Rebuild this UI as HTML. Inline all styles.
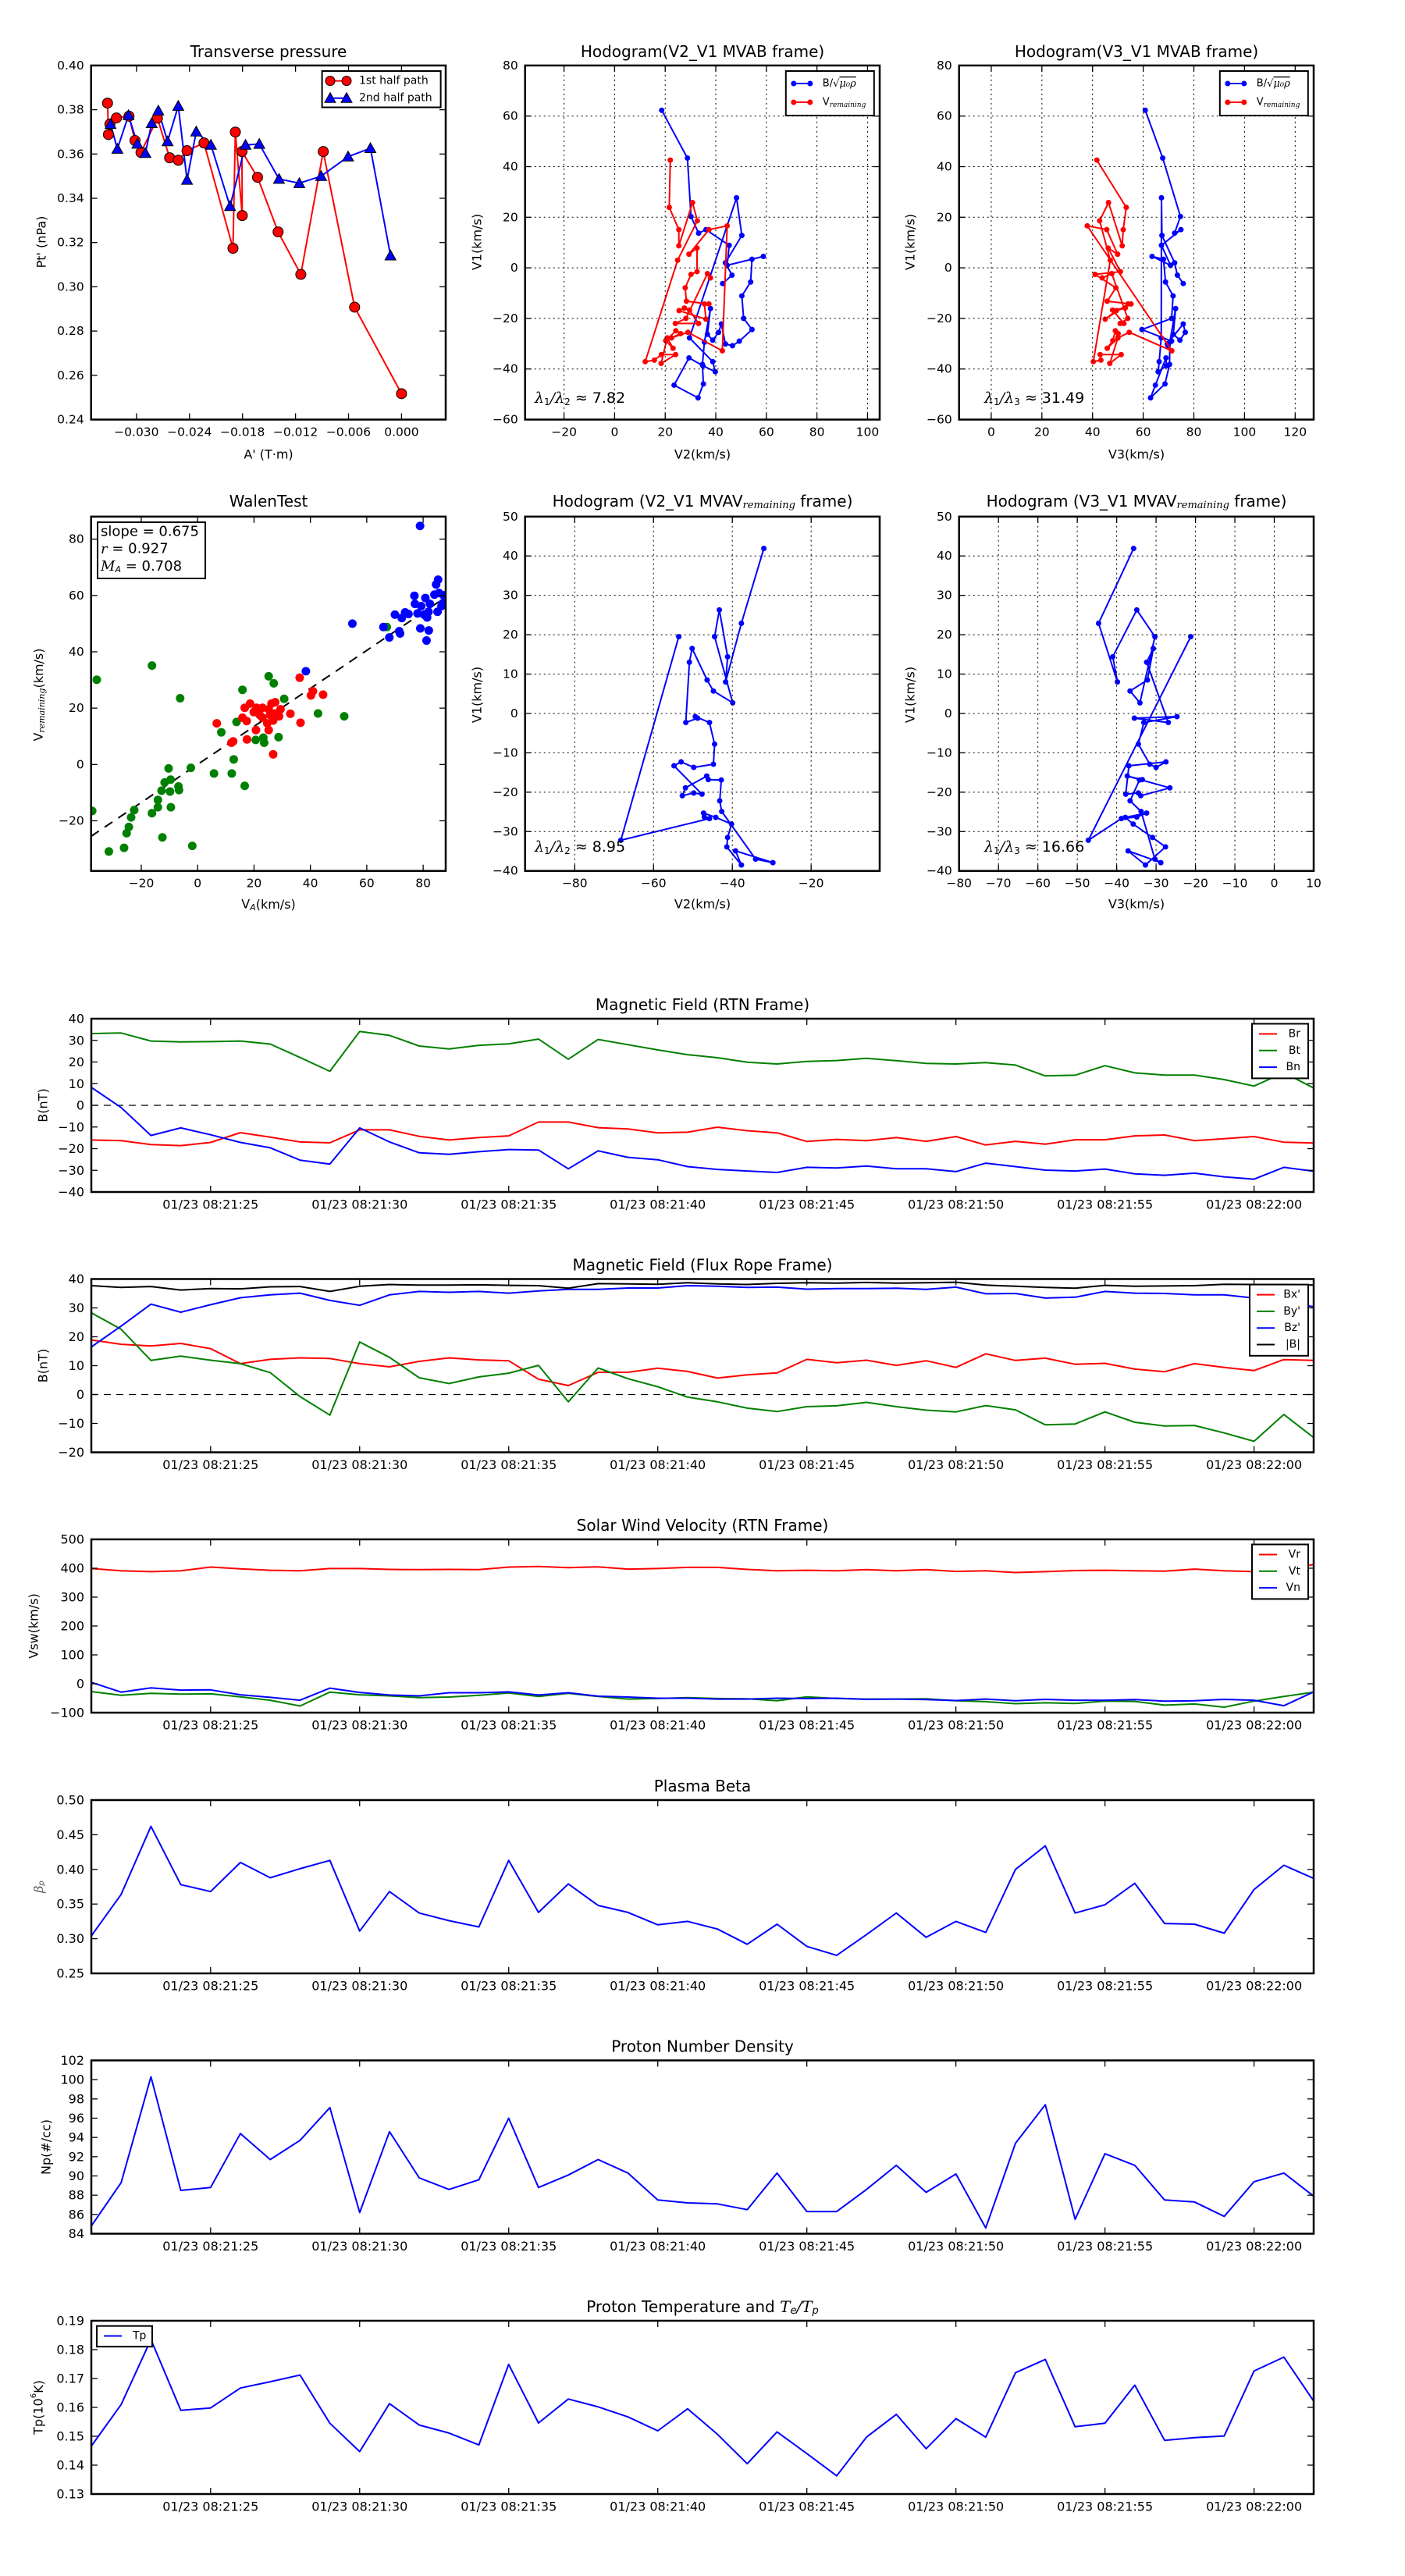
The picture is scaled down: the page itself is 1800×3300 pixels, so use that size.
<!DOCTYPE html>
<html><head><meta charset="utf-8"><title>Flux rope analysis</title>
<style>
html,body{margin:0;padding:0;background:#fff}
svg{display:block;font-family:"DejaVu Sans","Liberation Sans",sans-serif}
</style></head>
<body>
<svg id="fig" width="1800" height="3300" viewBox="0 0 1800 3300" xmlns="http://www.w3.org/2000/svg"></svg>
<script>
// ---------- DATA ----------
// Transverse pressure
const ptRedA=[-0.03328,-0.03318,-0.03301,-0.03227,-0.03085,-0.03017,-0.02949,-0.02763,-0.02625,-0.02527,-0.02428,-0.02236,-0.01908,-0.01881,-0.01803,-0.01806,-0.01630,-0.01397,-0.01140,-0.00886,-0.00531,0.0];
const ptRedP=[0.3830,0.3688,0.3735,0.3763,0.3771,0.3661,0.3607,0.3762,0.3583,0.3572,0.3615,0.3650,0.3174,0.3699,0.3322,0.3611,0.3495,0.3248,0.3056,0.3611,0.2908,0.2517];
const ptBlueA=[-0.03294,-0.03216,-0.03091,-0.02990,-0.02899,-0.02828,-0.02753,-0.02648,-0.02527,-0.02428,-0.02324,-0.02158,-0.01941,-0.01766,-0.01610,-0.01387,-0.01157,-0.00910,-0.00605,-0.00352,-0.00125];
const ptBlueP=[0.3735,0.3623,0.3775,0.3646,0.3604,0.3739,0.3796,0.3657,0.3817,0.3483,0.3701,0.3641,0.3364,0.3641,0.3645,0.3487,0.3468,0.3500,0.3588,0.3626,0.3141];
const ptXTicks=[-0.030,-0.024,-0.018,-0.012,-0.006,0.000];
const ptXLabels=['\u22120.030','\u22120.024','\u22120.018','\u22120.012','\u22120.006','0.000'];
const ptYTicks=[0.24,0.26,0.28,0.30,0.32,0.34,0.36,0.38,0.40];
const ptYLabels=['0.24','0.26','0.28','0.30','0.32','0.34','0.36','0.38','0.40'];
// MVAB hodograms (shared V1)
const hbV1=[62.3,43.4,20.3,13.7,15.1,8.9,1.0,4.5,3.4,-5.6,-11.1,-20.0,-24.4,-29.0,-30.8,-30.1,-22.2,-25.5,-28.6,-26.3,-16.1,-29.4,-38.2,-45.9,-51.4,-46.4,-35.6,-38.7,-41.1,-37.1,-27.7,27.7,12.8,2.0,-2.9,-6.2];
const hbV2=[18.6,28.8,30.2,33.2,36.1,45.3,44.5,58.8,54.3,53.8,50.3,51.0,54.3,49.3,46.6,43.8,42.2,41.1,38.8,36.7,37.9,35.5,34.7,35.1,33.0,23.5,29.4,34.9,39.8,38.8,29.6,48.2,50.3,43.8,46.4,42.7];
const hbV3=[60.8,67.7,74.7,72.4,74.9,67.2,70.8,63.5,68.0,68.8,71.8,71.2,59.5,71.2,69.8,69.5,75.8,76.6,74.5,71.9,72.8,70.5,70.4,68.6,62.9,64.8,69.0,69.2,65.9,66.3,67.1,67.2,67.4,72.4,73.5,75.8];
const hrV1=[42.6,23.9,15.1,8.7,25.8,18.6,3.0,-37.1,-36.5,-34.3,-34.3,-37.8,-27.7,-31.8,-28.8,-24.9,-26.0,-27.7,-25.5,-32.8,16.6,15.1,5.4,7.8,-1.5,-2.6,-7.9,-13.2,-14.3,-14.3,-20.3,-16.9,-15.9,-16.7,-22.0,-22.0,-20.0,-2.3,-4.0];
const hrV2=[22.0,21.6,25.4,25.4,30.8,32.7,24.9,12.1,15.7,18.5,24.1,18.4,20.8,23.1,20.2,24.2,26.1,22.5,29.0,42.6,44.5,37.3,29.4,32.6,32.6,30.2,27.9,28.4,37.3,35.5,36.1,25.5,27.6,29.6,33.2,24.0,28.2,36.7,37.9];
const hrV3=[41.7,53.3,52.1,51.7,46.3,42.8,47.0,40.3,43.3,43.0,51.3,46.8,50.0,45.8,48.0,49.0,50.1,50.0,54.5,71.3,37.9,45.6,49.9,46.2,51.0,41.0,49.2,45.8,55.2,54.0,45.0,49.4,52.9,47.9,52.4,50.9,53.9,47.6,43.8];
const hodoTicksA=[-20,0,20,40,60,80,100];
const hodoTicksB=[0,20,40,60,80,100,120];
const hodoYTicks=[-60,-40,-20,0,20,40,60,80];
// MVAV hodograms (shared V1)
const hvV1=[19.5,-32.2,-26.7,-26.3,-25.3,-26.4,-28.1,-31.5,-33.9,-38.5,-34.9,-37.9,-37.0,-24.9,-22.2,-16.9,-16.8,-15.9,-18.9,-20.9,-20.2,-20.5,-13.3,-12.3,-13.7,-12.9,-7.8,-2.3,-0.8,-1.2,-2.3,13.0,16.5,8.5,5.7,2.7,19.5,26.3,14.4,8.0,22.9,41.9];
const hvV2=[-53.6,-68.3,-45.8,-47.1,-47.3,-44.2,-40.2,-41.2,-41.4,-37.7,-39.2,-29.7,-34.1,-42.7,-43.2,-42.8,-46.1,-46.5,-51.9,-52.7,-49.8,-47.7,-54.8,-53.0,-49.8,-44.8,-44.5,-45.8,-49.4,-48.8,-51.8,-50.9,-50.2,-46.4,-44.8,-39.9,-44.5,-43.3,-41.2,-41.7,-37.7,-32.0];
const hvV3=[-21.2,-47.2,-38.8,-34.9,-32.4,-37.8,-35.8,-30.9,-27.6,-32.7,-37.1,-28.8,-30.3,-33.8,-36.6,-34.2,-33.5,-37.3,-26.5,-33.9,-34.5,-37.7,-36.9,-27.5,-30.0,-31.6,-34.5,-33.1,-24.7,-35.5,-26.9,-32.4,-30.7,-32.2,-36.6,-34.1,-30.3,-34.9,-41.0,-39.8,-44.6,-35.7];
const hvXTicksA=[-80,-60,-40,-20];
const hvXTicksB=[-80,-70,-60,-50,-40,-30,-20,-10,0,10];
const hvYTicks=[-40,-30,-20,-10,0,10,20,30,40,50];
// Walen test
const walBlueX=[78.9,76.9,77.1,70.0,72.4,73.6,74.8,78.0,80.8,82.4,84.0,85.3,84.6,85.6,87.2,86.9,86.5,85.1,81.9,80.3,79.3,81.4,79.0,82.0,81.2,71.5,71.8,68.0,65.9,54.9,38.4];
const walBlueY=[84.7,59.9,57.0,53.2,52.0,54.0,53.4,53.6,59.1,57.0,60.3,65.6,63.9,60.9,60.1,57.2,56.2,54.2,54.2,53.2,56.2,52.2,48.3,47.6,44.0,47.3,46.5,45.1,48.8,50.0,33.1];
const walRedX=[36.2,40.9,40.2,44.5,32.9,36.5,6.8,12.0,12.6,17.5,20.7,26.8,16.7,18.6,15.9,17.4,20.9,23.0,25.2,26.2,27.5,29.4,28.9,26.8,25.2,24.7,23.0,19.9,22.0,25.7,27.3];
const walRedY=[30.8,26.0,24.5,24.8,18.0,14.8,14.6,7.7,8.2,8.9,12.2,3.6,20.1,21.6,16.6,15.4,20.1,20.1,19.6,21.6,22.1,19.6,17.1,15.6,12.2,14.6,16.6,18.6,17.6,17.6,18.1];
const walGreenX=[-35.8,-16.2,-6.2,-37.4,-31.5,-26.1,-25.2,-24.4,-23.6,-22.5,-16.2,-14.1,-14.1,-12.8,-12.5,-11.7,-10.3,-9.6,-9.8,-9.5,-6.8,-6.6,-2.4,-1.9,5.8,12.1,12.8,8.4,13.8,16.7,15.9,20.6,23.3,23.6,25.2,27.0,28.7,30.7,42.7,52.0,67.1];
const walGreenY=[30.1,35.1,23.5,-16.5,-30.9,-29.6,-24.4,-22.2,-18.8,-16.2,-17.3,-15.2,-12.6,-9.3,-25.9,-6.4,-1.4,-5.4,-9.6,-15.2,-7.8,-9.1,-1.2,-28.9,-3.2,-3.2,1.8,11.4,15.1,-7.6,26.5,8.7,9.5,7.7,31.3,28.8,9.7,23.3,18.1,17.1,48.8];
const walSlope=0.675;
const walTicks=[-20,0,20,40,60,80];
// Time series (seconds after 08:21:00)
const tsTime=[21,22,23,24,25,26,27,28,29,30,31,32,33,34,35,36,37,38,39,40,41,42,43,44,45,46,47,48,49,50,51,52,53,54,55,56,57,58,59,60,61,62];
const tsTickSec=[25,30,35,40,45,50,55,60];
const tsTickLabels=['01/23 08:21:25','01/23 08:21:30','01/23 08:21:35','01/23 08:21:40','01/23 08:21:45','01/23 08:21:50','01/23 08:21:55','01/23 08:22:00'];
const bR=[-16,-16.3,-18.1,-18.6,-17.1,-12.6,-14.7,-16.9,-17.3,-11.3,-11.3,-14.3,-16,-14.9,-14.1,-7.7,-7.7,-10.3,-10.9,-12.7,-12.4,-10.1,-11.7,-12.7,-16.7,-15.7,-16.3,-14.9,-16.6,-14.4,-18.3,-16.6,-17.9,-15.9,-15.9,-14.1,-13.7,-16.3,-15.4,-14.4,-17,-17.4];
const bT=[33.1,33.4,29.7,29.3,29.4,29.7,28.3,22.1,15.7,34.1,32.3,27.4,26,27.7,28.4,30.6,21.3,30.4,28,25.6,23.4,22,19.9,19.1,20.3,20.7,21.7,20.6,19.4,19.1,19.7,18.6,13.6,13.9,18.3,15,14,14,11.9,8.9,15.1,8];
const bN=[8.3,-1,-13.9,-10.4,-13.6,-17.1,-19.6,-25.3,-27.1,-10.4,-16.9,-21.9,-22.6,-21.4,-20.4,-20.6,-29.3,-21,-24,-25.1,-28.3,-29.6,-30.3,-31,-28.6,-28.9,-28,-29.3,-29.3,-30.6,-26.7,-28.3,-29.9,-30.3,-29.4,-31.6,-32.3,-31.3,-33,-34.1,-28.6,-30.4];
const bX=[18.9,17.4,16.8,17.7,15.9,10.7,12.2,12.7,12.5,10.7,9.6,11.5,12.7,12,11.7,5.3,3.1,7.7,7.7,9.1,8,5.7,6.8,7.5,12.2,11,11.9,10.1,11.7,9.4,14.1,11.8,12.6,10.5,10.8,8.8,7.9,10.7,9.4,8.3,12.1,11.8];
const bY=[28.3,22.6,11.8,13.3,11.9,10.7,7.6,-0.7,-7.1,18.2,12.9,5.8,3.8,6.1,7.4,10.1,-2.5,9.2,5.5,2.7,-0.9,-2.5,-4.7,-5.9,-4.2,-3.9,-2.7,-4.2,-5.4,-6,-3.8,-5.3,-10.5,-10.2,-6,-9.6,-10.9,-10.7,-13.3,-16.2,-6.9,-14.9];
const bZ=[16.5,23.7,31.3,28.5,31.1,33.5,34.5,35.1,32.6,30.9,34.5,35.7,35.4,35.7,35.1,35.9,36.4,36.4,36.9,36.9,37.7,37.5,37.1,37.2,36.5,36.7,36.7,36.8,36.4,37.2,34.9,35,33.4,33.7,35.7,35.1,35,34.5,34.5,33.4,32.2,30.4];
const bMag=[37.7,37.1,37.4,36.2,36.7,36.6,37.3,37.4,35.7,37.5,38.1,37.9,37.9,38,37.8,37.7,36.8,38.4,38.3,38.2,38.7,38.3,38.1,38.5,38.7,38.6,38.8,38.6,38.7,38.9,37.9,37.5,37.1,36.8,37.8,37.5,37.6,37.7,38.2,38.1,38.1,37.9];
const vR=[399,391,388,391,404,398,393,391,399,399,396,395,396,395,404,406,402,405,397,399,403,403,396,391,393,391,395,391,395,389,391,385,388,392,393,391,390,397,391,388,395,413];
const vT=[-27,-40,-33,-36,-35,-45,-57,-77,-29,-38,-42,-48,-46,-40,-32,-44,-33,-44,-53,-51,-48,-51,-52,-59,-45,-51,-53,-53,-52,-59,-62,-69,-66,-68,-60,-61,-74,-70,-81,-60,-44,-29];
const vN=[5,-29,-14,-22,-21,-38,-47,-57,-15,-30,-39,-42,-31,-31,-28,-39,-31,-43,-46,-50,-50,-53,-53,-50,-51,-50,-54,-53,-55,-58,-53,-59,-54,-57,-57,-55,-60,-59,-54,-57,-76,-28];
const betaP=[0.304,0.364,0.462,0.378,0.368,0.410,0.388,0.401,0.413,0.311,0.368,0.337,0.326,0.317,0.413,0.338,0.379,0.348,0.338,0.320,0.325,0.314,0.292,0.321,0.289,0.276,0.306,0.337,0.302,0.325,0.309,0.400,0.434,0.337,0.349,0.380,0.322,0.321,0.308,0.371,0.406,0.387];
const npD=[84.8,89.3,100.3,88.5,88.8,94.4,91.7,93.7,97.1,86.2,94.6,89.8,88.6,89.6,96.0,88.8,90.1,91.7,90.3,87.5,87.2,87.1,86.5,90.3,86.3,86.3,88.6,91.1,88.3,90.2,84.6,93.4,97.4,85.5,92.3,91.1,87.5,87.3,85.8,89.4,90.3,87.9];
const tpT=[0.1466,0.161,0.1835,0.159,0.1598,0.1667,0.1689,0.1712,0.1545,0.1447,0.1613,0.1539,0.1511,0.147,0.1749,0.1546,0.1629,0.1602,0.1567,0.1519,0.1595,0.1507,0.1405,0.1515,0.144,0.1363,0.1497,0.1576,0.1457,0.1561,0.1497,0.172,0.1766,0.1533,0.1545,0.1677,0.1486,0.1495,0.1501,0.1726,0.1774,0.1622];

// ---------- DRAWING ----------
const NS='http://www.w3.org/2000/svg';
const svg=document.getElementById('fig');
let clipN=0;
function mk(tag,attrs,parent){const e=document.createElementNS(NS,tag);for(const k in attrs)e.setAttribute(k,attrs[k]);(parent||svg).appendChild(e);return e;}
function txt(s,x,y,size,anchor,parent,extra){const t=mk('text',Object.assign({x:x,y:y,'font-size':size,'text-anchor':anchor||'middle','dominant-baseline':'central',fill:'#000'},extra||{}),parent);t.textContent=s;return t;}
function fmtNum(v){return (v<0?'\u2212':'')+Math.abs(v);}

function makeAxes(name,box,xl,yl){
  const g=mk('g',{});
  
  
  const [x0,y0,x1,y1]=box;
  const sx=v=>x0+(v-xl[0])/(xl[1]-xl[0])*(x1-x0);
  const sy=v=>y1-(v-yl[0])/(yl[1]-yl[0])*(y1-y0);
  const id='clip'+(clipN++);
  const cp=mk('clipPath',{id:id},g);
  mk('rect',{x:x0,y:y0,width:x1-x0,height:y1-y0},cp);
  const data=mk('g',{'clip-path':'url(#'+id+')'},g);
  
  
  return {g,data,sx,sy,box};
}
function grid(ax,xt,yt){
  const [x0,y0,x1,y1]=ax.box;
  xt.forEach(v=>{const l=mk('line',{x1:ax.sx(v),x2:ax.sx(v),y1:y0,y2:y1,stroke:'#000','stroke-width':1,'stroke-dasharray':'2,4'},ax.g);
    
    });
  yt.forEach(v=>{const l=mk('line',{x1:x0,x2:x1,y1:ax.sy(v),y2:ax.sy(v),stroke:'#000','stroke-width':1,'stroke-dasharray':'2,4'},ax.g);
    
    });
}
function frame(ax,xt,xlab,yt,ylab,fs,tl){
  const [x0,y0,x1,y1]=ax.box;
  const tg=mk('g',{},ax.g);
  
  
  xt.forEach((v,i)=>{const x=ax.sx(v);
    mk('line',{x1:x,x2:x,y1:y1,y2:y1-tl,stroke:'#000','stroke-width':1.3},tg);
    mk('line',{x1:x,x2:x,y1:y0,y2:y0+tl,stroke:'#000','stroke-width':1.3},tg);
    const t=txt(xlab[i],x,y1+16,fs,'middle',tg);
    
    });
  yt.forEach((v,i)=>{const y=ax.sy(v);
    mk('line',{x1:x0,x2:x0+tl,y1:y,y2:y,stroke:'#000','stroke-width':1.3},tg);
    mk('line',{x1:x1,x2:x1-tl,y1:y,y2:y,stroke:'#000','stroke-width':1.3},tg);
    const t=txt(ylab[i],x0-9,y,fs,'end',tg);
    
    });
  const r=mk('rect',{x:x0,y:y0,width:x1-x0,height:y1-y0,fill:'none',stroke:'#000','stroke-width':2.5},ax.g);
  
  
}
function polyline(ax,xs,ys,color,w,name){
  const pts=xs.map((x,i)=>ax.sx(x).toFixed(1)+','+ax.sy(ys[i]).toFixed(1)).join(' ');
  const p=mk('polyline',{points:pts,fill:'none',stroke:color,'stroke-width':w,'stroke-linejoin':'round'},ax.data);
  
  
  return p;
}
function dots(ax,xs,ys,color,r,name,stroke){
  const g=mk('g',{},ax.data);
  
  
  xs.forEach((x,i)=>{const c=mk('circle',{cx:ax.sx(x),cy:ax.sy(ys[i]),r:r,fill:color},g);
    if(stroke){c.setAttribute('stroke','#000');c.setAttribute('stroke-width',1);}
    
    });
}
function tris(ax,xs,ys,color,s,name){
  const g=mk('g',{},ax.data);
  
  
  xs.forEach((x,i)=>{const cx=ax.sx(x),cy=ax.sy(ys[i]);
    const p=mk('polygon',{points:`${cx},${cy-s} ${cx-s},${cy+s*0.8} ${cx+s},${cy+s*0.8}`,fill:color,stroke:'#000','stroke-width':1},g);
    
    });
}
function title(s,x,y,size){const t=txt(s,x,y,size||20,'middle');return t;}
function xlabel(s,x,y){const t=txt(s,x,y,16,'middle');return t;}
function ylabel(s,x,y){const t=txt(s,x,y,16,'middle',svg,{transform:`rotate(-90 ${x} ${y})`});return t;}
function fmtF(v,d){return (v<0?'\u2212':'')+Math.abs(v).toFixed(d);}

// ----- Panel 1: transverse pressure -----
(function(){
  const ax=makeAxes('transverse-pressure-chart',[116.7,83.9,571,537.5],[-0.03514,0.0050],[0.24,0.40]);
  polyline(ax,ptRedA,ptRedP,'#f00',2,'first-half-line');
  polyline(ax,ptBlueA,ptBlueP,'#00f',2,'second-half-line');
  dots(ax,ptRedA,ptRedP,'#f00',6.5,'first-half-markers',true);
  tris(ax,ptBlueA,ptBlueP,'#00f',7,'second-half-markers');
  frame(ax,ptXTicks,ptXLabels,ptYTicks,ptYLabels,15.5,8);
  title('Transverse pressure',344,66);
  xlabel("A' (T\u00b7m)",344,582);
  ylabel("Pt' (nPa)",53,310);
  const lg=mk('g',{});
  
  
  mk('rect',{x:412.6,y:91,width:152,height:46.5,fill:'#fff',stroke:'#000','stroke-width':2},lg);
  mk('line',{x1:423,x2:444,y1:103.6,y2:103.6,stroke:'#f00','stroke-width':2},lg);
  mk('circle',{cx:423,cy:103.6,r:6,fill:'#f00',stroke:'#000'},lg);
  mk('circle',{cx:444,cy:103.6,r:6,fill:'#f00',stroke:'#000'},lg);
  txt('1st half path',460,103.6,14,'start',lg);
  mk('line',{x1:423,x2:444,y1:125.7,y2:125.7,stroke:'#00f','stroke-width':2},lg);
  [423,444].forEach(cx=>mk('polygon',{points:`${cx},${118.7} ${cx-7},${131.3} ${cx+7},${131.3}`,fill:'#00f',stroke:'#000'},lg));
  txt('2nd half path',460,125.7,14,'start',lg);
})();

function hodoLegend(x,y){
  const lg=mk('g',{});
  
  
  mk('rect',{x:x,y:y,width:113,height:57,fill:'#fff',stroke:'#000','stroke-width':2},lg);
  mk('line',{x1:x+10,x2:x+31,y1:y+16,y2:y+16,stroke:'#00f','stroke-width':2},lg);
  mk('circle',{cx:x+10,cy:y+16,r:3.5,fill:'#00f'},lg);mk('circle',{cx:x+31,cy:y+16,r:3.5,fill:'#00f'},lg);
  const t1=txt('',x+47,y+16,13,'start',lg);
  t1.innerHTML='B/<tspan font-family="DejaVu Serif,Liberation Serif,serif">\u221a</tspan><tspan font-style="italic" font-family="DejaVu Serif,Liberation Serif,serif" text-decoration="overline">\u03bc\u2080\u03c1</tspan>';
  mk('line',{x1:x+10,x2:x+31,y1:y+40,y2:y+40,stroke:'#f00','stroke-width':2},lg);
  mk('circle',{cx:x+10,cy:y+40,r:3.5,fill:'#f00'},lg);mk('circle',{cx:x+31,cy:y+40,r:3.5,fill:'#f00'},lg);
  const t2=txt('',x+47,y+40,13,'start',lg);
  t2.innerHTML='V<tspan font-size="9" font-style="italic" font-family="DejaVu Serif,Liberation Serif,serif" dy="4">remaining</tspan>';
}
function lambdaText(x,y,a,b,val){
  const t=txt('',x,y,19,'start');
  t.innerHTML=`<tspan font-style="italic" font-family="DejaVu Serif,Liberation Serif,serif">\u03bb</tspan><tspan font-size="12" dy="5">1</tspan><tspan dy="-5" font-style="italic" font-family="DejaVu Serif,serif">/\u03bb</tspan><tspan font-size="12" dy="5">${b}</tspan><tspan dy="-5"> \u2248 ${val}</tspan>`;
  
  
}
function lab(arr){return arr.map(fmtNum);}

// ----- Panel 2: hodogram V2-V1 MVAB -----
(function(){
  const ax=makeAxes('hodogram-v2-v1-mvab',[672.7,83.9,1127,537.5],[-35.4,104.8],[-60,80]);
  grid(ax,hodoTicksA,hodoYTicks);
  polyline(ax,hbV2,hbV1,'#00f',2,'b-alfven-line');
  dots(ax,hbV2,hbV1,'#00f',3.5,'b-alfven-markers');
  polyline(ax,hrV2,hrV1,'#f00',2,'v-remaining-line');
  dots(ax,hrV2,hrV1,'#f00',3.5,'v-remaining-markers');
  frame(ax,hodoTicksA,lab(hodoTicksA),hodoYTicks,lab(hodoYTicks),15.5,8);
  title('Hodogram(V2_V1 MVAB frame)',900,66);
  xlabel('V2(km/s)',900,582);
  ylabel('V1(km/s)',611,310);
  hodoLegend(1006.8,91);
  lambdaText(685,510,1,2,'7.82');
})();
// ----- Panel 3: hodogram V3-V1 MVAB -----
(function(){
  const ax=makeAxes('hodogram-v3-v1-mvab',[1228.7,83.9,1683,537.5],[-12.7,127.3],[-60,80]);
  grid(ax,hodoTicksB,hodoYTicks);
  polyline(ax,hbV3,hbV1,'#00f',2,'b-alfven-line');
  dots(ax,hbV3,hbV1,'#00f',3.5,'b-alfven-markers');
  polyline(ax,hrV3,hrV1,'#f00',2,'v-remaining-line');
  dots(ax,hrV3,hrV1,'#f00',3.5,'v-remaining-markers');
  frame(ax,hodoTicksB,lab(hodoTicksB),hodoYTicks,lab(hodoYTicks),15.5,8);
  title('Hodogram(V3_V1 MVAB frame)',1456,66);
  xlabel('V3(km/s)',1456,582);
  ylabel('V1(km/s)',1166,310);
  hodoLegend(1562.8,91);
  lambdaText(1261,510,1,3,'31.49');
})();
// ----- Panel 4: Walen test -----
(function(){
  const ax=makeAxes('walen-test-chart',[116.7,661.8,571,1115.7],[-37.8,88],[-37.8,88]);
  const fitX=[-37.8,88];
  const fl=mk('line',{x1:ax.sx(fitX[0]),y1:ax.sy(walSlope*fitX[0]),x2:ax.sx(fitX[1]),y2:ax.sy(walSlope*fitX[1]),stroke:'#000','stroke-width':2,'stroke-dasharray':'12,9'},ax.data);
  
  
  dots(ax,walGreenX,walGreenY,'#008000',5.5,'green-points');
  dots(ax,walRedX,walRedY,'#f00',5.5,'red-points');
  dots(ax,walBlueX,walBlueY,'#00f',5.5,'blue-points');
  frame(ax,walTicks,lab(walTicks),walTicks,lab(walTicks),15.5,8);
  title('WalenTest',344,642);
  const xl=xlabel('',344,1158);xl.innerHTML='V<tspan font-size="11" font-style="italic" dy="4">A</tspan><tspan dy="-4">(km/s)</tspan>';
  const yl=ylabel('',49,890);yl.innerHTML='V<tspan font-size="11" font-style="italic" font-family="DejaVu Serif,serif" dy="4">remaining</tspan><tspan dy="-4">(km/s)</tspan>';
  const bx=mk('g',{});
  
  
  mk('rect',{x:125,y:669,width:138,height:72,fill:'#fff',stroke:'#000','stroke-width':2},bx);
  txt('slope = 0.675',129,681,18,'start',bx);
  const r=txt('',129,703,18,'start',bx);r.innerHTML='<tspan font-style="italic" font-family="DejaVu Serif,serif">r</tspan> = 0.927';
  const m=txt('',129,725,18,'start',bx);m.innerHTML='<tspan font-style="italic" font-family="DejaVu Serif,serif">M</tspan><tspan font-size="11" font-style="italic" dy="4">A</tspan><tspan dy="-4"> = 0.708</tspan>';
})();
// ----- Panel 5: hodogram V2-V1 MVAV -----
(function(){
  const ax=makeAxes('hodogram-v2-v1-mvav',[672.7,661.8,1127,1115.7],[-92.6,-2.6],[-40,50]);
  grid(ax,hvXTicksA,hvYTicks);
  polyline(ax,hvV2,hvV1,'#00f',2,'hodogram-line');
  dots(ax,hvV2,hvV1,'#00f',3.5,'hodogram-markers');
  frame(ax,hvXTicksA,lab(hvXTicksA),hvYTicks,lab(hvYTicks),15.5,8);
  const t=title('',900,642);t.innerHTML='Hodogram (V2_V1 MVAV<tspan font-size="13" font-style="italic" font-family="DejaVu Serif,serif" dy="5">remaining</tspan><tspan dy="-5"> frame)</tspan>';
  xlabel('V2(km/s)',900,1158);
  ylabel('V1(km/s)',611,890);
  lambdaText(685,1085,1,2,'8.95');
})();
// ----- Panel 6: hodogram V3-V1 MVAV -----
(function(){
  const ax=makeAxes('hodogram-v3-v1-mvav',[1228.7,661.8,1683,1115.7],[-80,10],[-40,50]);
  grid(ax,hvXTicksB,hvYTicks);
  polyline(ax,hvV3,hvV1,'#00f',2,'hodogram-line');
  dots(ax,hvV3,hvV1,'#00f',3.5,'hodogram-markers');
  frame(ax,hvXTicksB,lab(hvXTicksB),hvYTicks,lab(hvYTicks),15.5,8);
  const t=title('',1456,642);t.innerHTML='Hodogram (V3_V1 MVAV<tspan font-size="13" font-style="italic" font-family="DejaVu Serif,serif" dy="5">remaining</tspan><tspan dy="-5"> frame)</tspan>';
  xlabel('V3(km/s)',1456,1158);
  ylabel('V1(km/s)',1166,890);
  lambdaText(1261,1085,1,3,'16.66');
})();

// ----- Time series -----
function tsLegend(x,y,w,entries,name){
  const lg=mk('g',{});
  
  
  mk('rect',{x:x,y:y,width:w,height:entries.length*21.3+6,fill:'#fff',stroke:'#000','stroke-width':2},lg);
  entries.forEach((e,i)=>{const yy=y+13+i*21.3;
    mk('line',{x1:x+9,x2:x+32,y1:yy,y2:yy,stroke:e[1],'stroke-width':2},lg);
    txt(e[0],x+w-10,yy,14,'end',lg);});
}
function tsPanel(name,top,yl,yt,ylab,ttl,series,ylabText,ylabX,zero){
  const ax=makeAxes(name,[117,top,1683,top+222],[21,62],yl);
  if(zero){const z=mk('line',{x1:117,x2:1683,y1:ax.sy(0),y2:ax.sy(0),stroke:'#000','stroke-width':1.3,'stroke-dasharray':'9,7'},ax.data);
    
    }
  series.forEach(s=>polyline(ax,tsTime,s[0],s[1],2,s[2]));
  frame(ax,tsTickSec,tsTickLabels,yt,ylab,16,8);
  const t=title(ttl,900,top-18);
  const y=ylabel(ylabText,ylabX,top+111);
  return {ax,t,y};
}
tsPanel('magnetic-field-rtn-chart',1305,[-40,40],[-40,-30,-20,-10,0,10,20,30,40],lab([-40,-30,-20,-10,0,10,20,30,40]),'Magnetic Field (RTN Frame)',
  [[bR,'#f00','br-line'],[bT,'#008000','bt-line'],[bN,'#00f','bn-line']],'B(nT)',55,true);
tsLegend(1604,1311.5,72,[['Br','#f00'],['Bt','#008000'],['Bn','#00f']],'rtn-legend');
tsPanel('magnetic-field-flux-rope-chart',1638.5,[-20,40],[-20,-10,0,10,20,30,40],lab([-20,-10,0,10,20,30,40]),'Magnetic Field (Flux Rope Frame)',
  [[bX,'#f00','bx-line'],[bY,'#008000','by-line'],[bZ,'#00f','bz-line'],[bMag,'#000','bmag-line']],'B(nT)',55,true);
tsLegend(1601,1645.6,75,[["Bx'",'#f00'],["By'",'#008000'],["Bz'",'#00f'],['|B|','#000']],'flux-rope-legend');
tsPanel('solar-wind-velocity-chart',1972,[-100,500],[-100,0,100,200,300,400,500],lab([-100,0,100,200,300,400,500]),'Solar Wind Velocity (RTN Frame)',
  [[vR,'#f00','vr-line'],[vT,'#008000','vt-line'],[vN,'#00f','vn-line']],'Vsw(km/s)',43,false);
tsLegend(1604,1978.5,72,[['Vr','#f00'],['Vt','#008000'],['Vn','#00f']],'velocity-legend');
(function(){
  const yt=[0.25,0.30,0.35,0.40,0.45,0.50];
  const r=tsPanel('plasma-beta-chart',2306,[0.25,0.50],yt,yt.map(v=>v.toFixed(2)),'Plasma Beta',[[betaP,'#00f','beta-line']],'',49,false);
  r.y.innerHTML='<tspan font-style="italic" font-family="DejaVu Serif,serif" fill="#555">\u03b2</tspan><tspan font-size="10" font-style="italic" fill="#555" dy="4">p</tspan>';
})();
(function(){
  const yt=[84,86,88,90,92,94,96,98,100,102];
  tsPanel('proton-density-chart',2639.5,[84,102],yt,yt.map(String),'Proton Number Density',[[npD,'#00f','density-line']],'Np(#/cc)',59,false);
})();
(function(){
  const yt=[0.13,0.14,0.15,0.16,0.17,0.18,0.19];
  const r=tsPanel('proton-temperature-chart',2973,[0.13,0.19],yt,yt.map(v=>v.toFixed(2)),'',[[tpT,'#00f','tp-line']],'',49,false);
  r.t.innerHTML='Proton Temperature and <tspan font-style="italic" font-family="DejaVu Serif,serif">T</tspan><tspan font-size="13" font-style="italic" dy="5">e</tspan><tspan dy="-5" font-style="italic" font-family="DejaVu Serif,serif">/T</tspan><tspan font-size="13" font-style="italic" dy="5">p</tspan>';
  r.y.innerHTML='Tp(10<tspan font-size="10" dy="-6">6</tspan><tspan dy="6">K)</tspan>';
  const lg=mk('g',{});
  
  
  mk('rect',{x:124,y:2979.7,width:71,height:26.5,fill:'#fff',stroke:'#000','stroke-width':2},lg);
  mk('line',{x1:133,x2:156,y1:2992.5,y2:2992.5,stroke:'#00f','stroke-width':2},lg);
  txt('Tp',170,2992.5,14,'start',lg);
})();
</script>
</body></html>
